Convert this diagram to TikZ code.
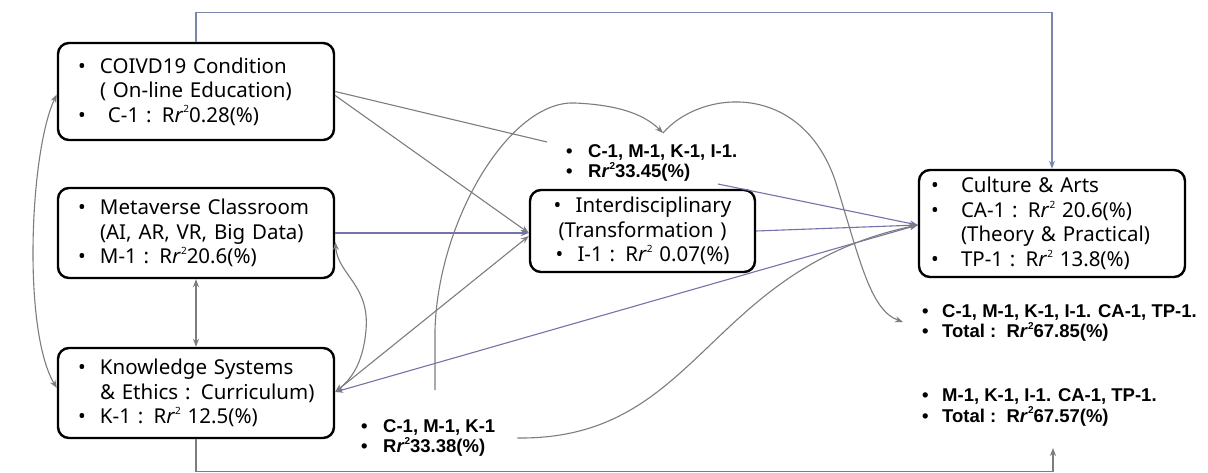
\documentclass[tikz,border=0pt]{standalone}
\usepackage{fontspec}
\setmainfont{Noto Sans}
\newfontfamily\labfont{Liberation Sans}
\usetikzlibrary{arrows.meta}
\definecolor{lgray}{RGB}{125,125,125}
\definecolor{lblue}{RGB}{115,115,170}
\definecolor{fblue}{RGB}{120,135,170}
\hyphenpenalty=10000
\exhyphenpenalty=10000
\newcommand{\bl}{\hspace*{10pt}\makebox[22pt][l]{\textbullet}}
\newcommand{\lbl}{\makebox[22pt][l]{\textbullet}}
\newcommand{\blw}{\makebox[30pt][l]{\textbullet}}
\newcommand{\ind}{\hspace*{32pt}}
\newcommand{\Rr}{R\textit{r}\raisebox{0.85ex}{\fontsize{10}{10}\selectfont 2}}
\begin{document}
\begin{tikzpicture}[x=1pt,y=-1pt,
  box/.style={draw=black, line width=2.4pt, rounded corners=11pt, inner xsep=10pt, inner ysep=0pt, align=left, font=\fontsize{20.5}{24.5}\selectfont},
  lab/.style={inner sep=0pt, align=left, anchor=west, font=\labfont\fontsize{18.5}{20.5}\selectfont\bfseries},
  conn/.style={draw=lgray, line width=1.1pt},
  bconn/.style={draw=lblue, line width=1.1pt},
  frame/.style={line width=1.3pt},
  tipend/.style={-{Stealth[length=8pt,width=6pt]}},
  tipboth/.style={{Stealth[length=8pt,width=6pt]}-{Stealth[length=8pt,width=6pt]}}
]
\useasboundingbox (0,0) rectangle (1208,472);
\fill[white] (0,0) rectangle (1208,472);

% boxes
\node[box, minimum height=97pt, text width=256pt] (C) at (196,91.5)
  {\bl COIVD19 Condition\\ \ind( On-line Education)\\ \bl\hspace*{8pt}C-1 : \Rr0.28(\%)};
\node[box, minimum height=90pt, text width=256pt] (M) at (196,233)
  {\bl Metaverse Classroom\\ \ind(AI, AR, VR, Big Data)\\ \bl M-1 : \Rr20.6(\%)};
\node[box, minimum height=90pt, text width=256pt] (K) at (196,393)
  {\bl Knowledge Systems\\ \ind\&\ Ethics : Curriculum)\\ \bl K-1 : \Rr\ 12.5(\%)};
\node[box, minimum height=82pt, inner xsep=6pt, text width=213pt, align=center] (I) at (642.5,231)
  {\lbl Interdisciplinary\\ (Transformation )\\ \lbl I-1 : \Rr\ 0.07(\%)};
\node[box, minimum height=107pt, inner xsep=12pt, text width=242pt] (CA) at (1052,223.5)
  {\blw Culture \& Arts\\ \blw CA-1 : \Rr\ 20.6(\%)\\ \hspace*{30pt}(Theory \& Practical)\\ \blw TP-1 : \Rr\ 13.8(\%)};

% labels
\node[lab] (LA) at (566,163) {\lbl C-1, M-1, K-1, I-1.\\ \lbl \Rr33.45(\%)};
\node[lab] (LB) at (361,438) {\lbl C-1, M-1, K-1\\ \lbl \Rr33.38(\%)};
\node[lab] (LC) at (922,323) {\makebox[20pt][l]{\textbullet}C-1, M-1, K-1, I-1. CA-1, TP-1.\\ \makebox[20pt][l]{\textbullet}Total :\ \ \Rr67.85(\%)};
\node[lab] (LD) at (922,407.5) {\makebox[20pt][l]{\textbullet}M-1, K-1, I-1. CA-1, TP-1.\\ \makebox[20pt][l]{\textbullet}Total :\ \ \Rr67.57(\%)};

% free ends
\coordinate (lain) at (547,142);
\coordinate (latop) at (663,133);
\coordinate (laout) at (718,184);
\coordinate (vstart) at (435,390);
\coordinate (lcin) at (903,322);
\coordinate (ldin) at (1053,448);

% frame lines
\draw[frame, draw=fblue, tipend] (C.north) -- ++(0,-29) -| (CA.north);
\draw[frame, draw=lgray, tipend] (K.south) -- ++(0,32) -| (ldin);

% connectors
\draw[conn] (C.east) -- (lain);
\draw[conn, tipend] ([yshift=-4pt]C.east) -- ([yshift=-2pt]I.west);
\draw[bconn, tipend] (M.east) -- ([yshift=-2pt]I.west);
\draw[conn, tipboth] ([yshift=1pt]K.east) -- ([yshift=-5pt]I.west);
\draw[bconn, tipboth] ([yshift=1pt]K.east) -- ([yshift=-1.5pt]CA.west);
\draw[bconn, tipend] (I.east) -- ([yshift=-1.5pt]CA.west);
\draw[bconn, tipend] (laout) -- ([yshift=-1.5pt]CA.west);
\draw[conn, tipend] ([xshift=22pt]LB.east) .. controls (700,440) and (705,270) .. ([yshift=-1.5pt]CA.west);
\draw[conn, tipend] (vstart) -- (435,330) .. controls (438,220) and (510,100) .. (575,103) .. controls (620,105) and (645,115) .. (latop);
\draw[conn, tipend] (latop) .. controls (700,90) and (800,80) .. (835,180) .. controls (860,260) and (870,310) .. (lcin);
\draw[conn, tipboth] ([yshift=-9pt]M.east) .. controls (338,275) and (370,285) .. (366,330) .. controls (363,365) and (350,380) .. ([yshift=1pt]K.east);
\draw[conn, tipboth] (M.south) -- (K.north);
\draw[conn, tipboth] ([yshift=-3pt]C.west) .. controls (30,150) and (22,330) .. ([yshift=5pt]K.west);
\end{tikzpicture}
\end{document}
